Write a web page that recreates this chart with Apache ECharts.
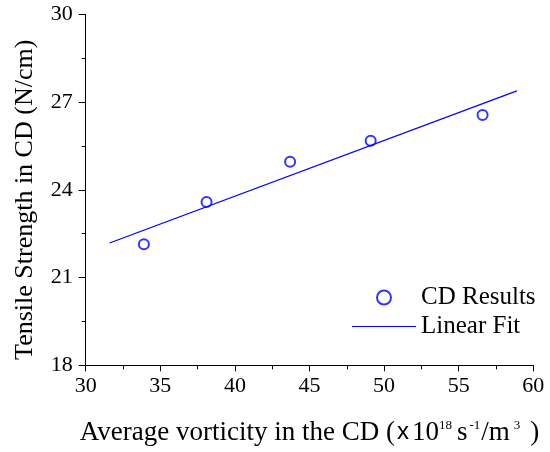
<!DOCTYPE html>
<html>
<head>
<meta charset="utf-8">
<script src="https://cdn.jsdelivr.net/npm/echarts@6/dist/echarts.min.js"></script>
<style>html,body{margin:0;padding:0;background:#fff;}#c{width:550px;height:452px;}</style>
</head>
<body>
<div id="c"></div>
<script>
var vorticity = [33.9, 38.1, 43.7, 49.1, 56.6];
var tensile = [22.14, 23.58, 24.96, 25.68, 26.56];
var fitX = [31.6, 58.9];
var fitY = [22.18, 27.38];
var xTicks = [30, 35, 40, 45, 50, 55, 60];
var yTicks = [18, 21, 24, 27, 30];

var chart = echarts.init(document.getElementById('c'));
var serif = 'Liberation Serif';
chart.setOption({
  animation: false,
  backgroundColor: '#fff',
  grid: {left: 85.7, right: 16.7, top: 14.3, bottom: 86.7},
  legend: {
    orient: 'vertical', left: 352, top: 285, padding: 0, itemGap: 4,
    itemWidth: 64, itemHeight: 14,
    textStyle: {fontFamily: serif, fontSize: 25, color: '#000'},
    data: [
      {name: 'CD Results', icon: 'emptyCircle'},
      {name: 'Linear Fit', icon: 'path://M0,0 H64 V1.2 H0 Z', itemStyle: {color: '#0000ff', borderWidth: 0}}
    ]
  },
  xAxis: {
    type: 'value', min: xTicks[0], max: xTicks[xTicks.length-1], interval: 5,
    splitLine: {show: false},
    axisLine: {onZero: false, lineStyle: {color: '#000', width: 1}},
    axisTick: {length: 6, lineStyle: {color: '#000'}},
    minorTick: {show: true, splitNumber: 2, length: 4, lineStyle: {color: '#000'}},
    axisLabel: {margin: 10, color: '#000', fontFamily: serif, fontSize: 22},
    nameLocation: 'middle', nameGap: 54,
    name: '{a|Average vorticity in the CD (}{b|x}{a|10}{s|18}{a|s}{t|-1}{a|/m}{u|3}{a|)}',
    nameTextStyle: {
      rich: {
        a: {fontFamily: serif, fontSize: 27, color: '#000'},
        b: {fontFamily: 'Liberation Sans', fontSize: 24, color: '#000', padding: [0, 3, 0, 2]},
        s: {fontFamily: serif, fontSize: 13, color: '#000', verticalAlign: 'top', padding: [0, 5, 0, 0]},
        t: {fontFamily: serif, fontSize: 13, color: '#000', verticalAlign: 'top', padding: [0, 1, 0, 2]},
        u: {fontFamily: serif, fontSize: 13, color: '#000', verticalAlign: 'top', padding: [0, 10, 0, 4]}
      }
    }
  },
  yAxis: {
    type: 'value', min: yTicks[0], max: yTicks[yTicks.length-1], interval: 3,
    splitLine: {show: false},
    axisLine: {show: true, onZero: false, lineStyle: {color: '#000', width: 1}},
    axisTick: {show: true, length: 7, lineStyle: {color: '#000'}},
    minorTick: {show: true, splitNumber: 2, length: 4, lineStyle: {color: '#000'}},
    axisLabel: {margin: 13, color: '#000', fontFamily: serif, fontSize: 22},
    name: 'Tensile Strength in CD (N/cm)',
    nameLocation: 'middle', nameGap: 48,
    nameTextStyle: {fontFamily: serif, fontSize: 26, color: '#000', padding: [0, 20, 0, 0]}
  },
  series: [
    {
      name: 'CD Results', type: 'scatter', symbol: 'emptyCircle', symbolSize: 10,
      itemStyle: {color: '#0000ff', borderColor: '#0000ff', borderWidth: 1.3},
      data: vorticity.map(function (v, i) { return [v, tensile[i]]; })
    },
    {
      name: 'Linear Fit', type: 'line', symbol: 'none', silent: true,
      lineStyle: {color: '#0000ff', width: 1.2},
      itemStyle: {color: '#0000ff'},
      data: fitX.map(function (v, i) { return [v, fitY[i]]; })
    }
  ]
});
</script>
</body>
</html>
